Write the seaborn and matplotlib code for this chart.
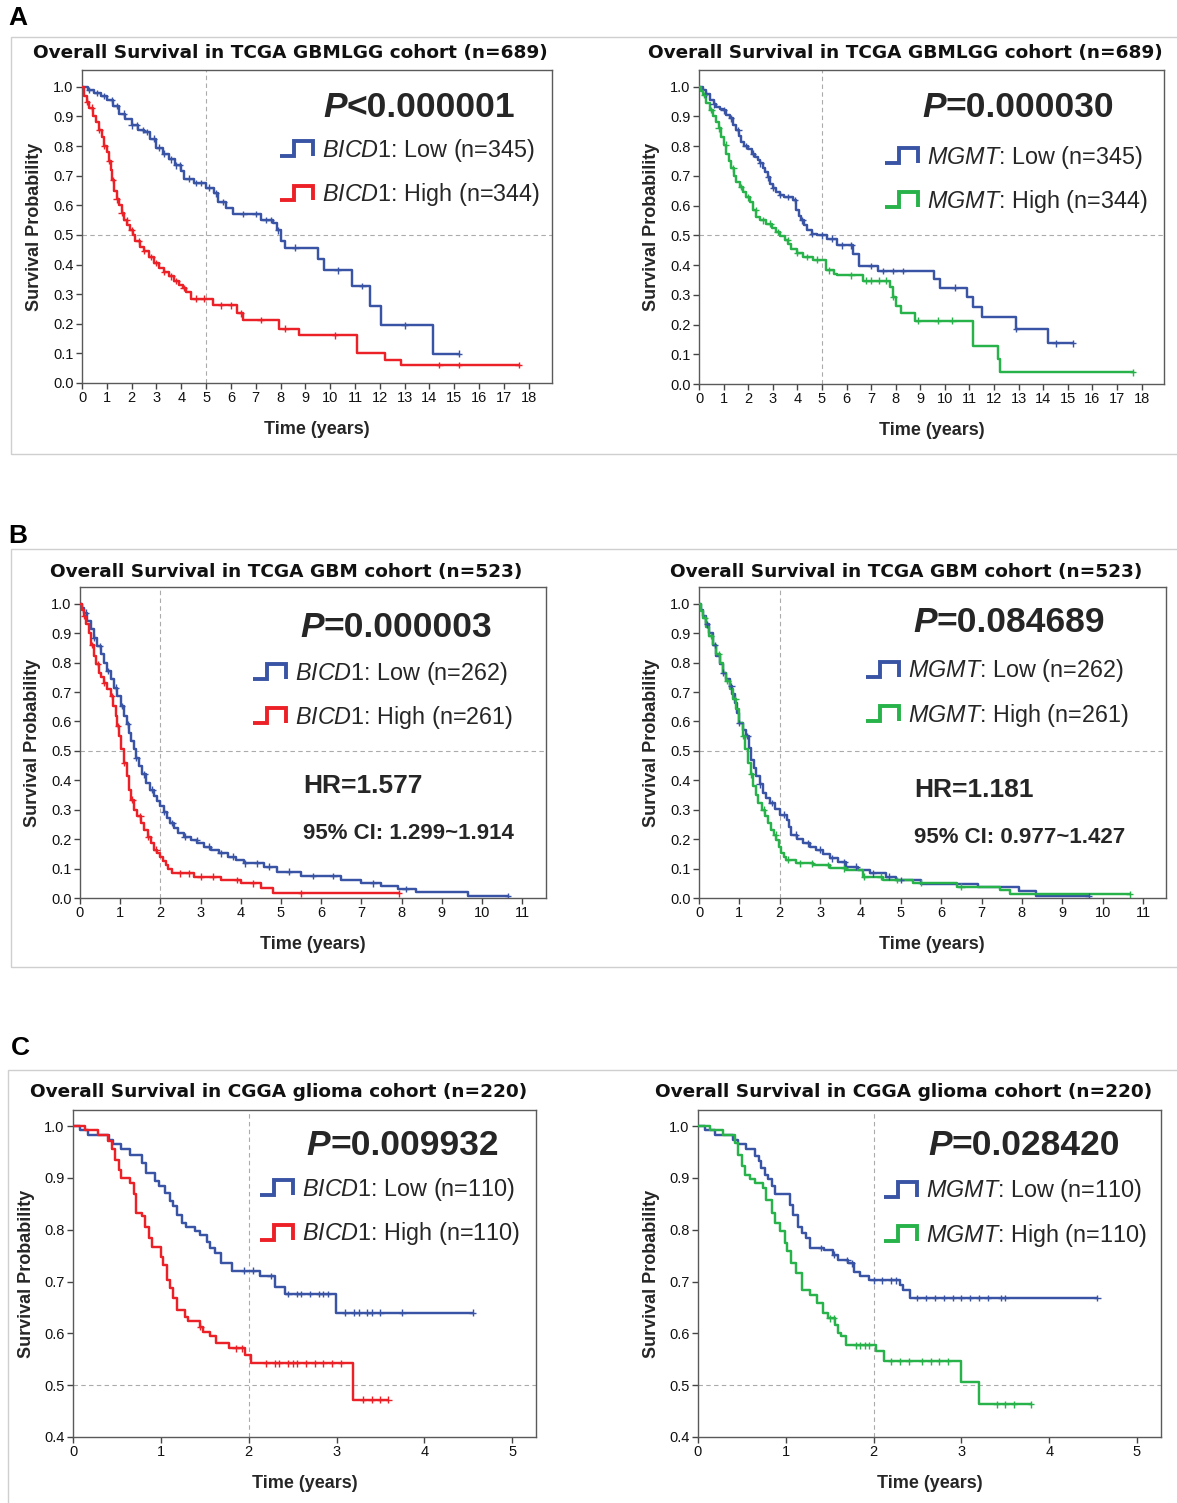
import numpy as np
import pandas as pd
import matplotlib
matplotlib.use("Agg")
import matplotlib.pyplot as plt
import seaborn as sns
from matplotlib.lines import Line2D
from matplotlib.legend_handler import HandlerBase
from matplotlib.patches import Rectangle

# ------------------------------------------------------------------ data
# Panel A : TCGA GBMLGG (n=689)
A_bicd1_low_t = [0, 0.25, 0.5, 0.75, 1.0, 1.25, 1.5, 1.75, 2.0, 2.25, 2.5, 2.75, 3.0, 3.25, 3.5, 3.75,
                 4.0, 4.1, 4.5, 5.0, 5.3, 5.5, 5.8, 6.1, 7.2, 7.7, 7.85, 8.0, 8.2, 9.5, 9.75, 10.9,
                 11.6, 12.05, 14.14]
A_bicd1_low_s = [1.0, 0.99, 0.98, 0.97, 0.955, 0.935, 0.91, 0.89, 0.87, 0.855, 0.848, 0.825, 0.795,
                 0.775, 0.755, 0.735, 0.715, 0.69, 0.675, 0.66, 0.64, 0.611, 0.59, 0.57, 0.55, 0.54,
                 0.515, 0.48, 0.457, 0.42, 0.38, 0.327, 0.26, 0.195, 0.099]
A_bicd1_low_end = 15.2
A_bicd1_low_cens = [0.3, 0.6, 0.9, 1.2, 1.4, 1.7, 2.0, 2.2, 2.45, 2.6, 2.9, 3.1, 3.3, 3.6, 3.8, 3.95,
                    4.3, 4.6, 4.8, 5.1, 5.4, 5.7, 6.5, 7.0, 7.4, 7.6, 7.9, 8.6, 10.3, 11.3, 13.0, 15.2]

A_bicd1_high_t = [0, 0.1, 0.2, 0.3, 0.45, 0.55, 0.7, 0.8, 0.9, 1.0, 1.08, 1.15, 1.22, 1.3, 1.4, 1.5,
                  1.6, 1.7, 1.82, 1.95, 2.05, 2.15, 2.35, 2.5, 2.7, 2.9, 3.1, 3.3, 3.5, 3.7, 3.9,
                  4.05, 4.2, 4.4, 5.27, 6.25, 6.5, 7.95, 8.76, 11.1, 12.2, 12.86]
A_bicd1_high_s = [1.0, 0.97, 0.95, 0.93, 0.9, 0.88, 0.855, 0.83, 0.8, 0.78, 0.75, 0.72, 0.685, 0.65,
                  0.62, 0.60, 0.575, 0.55, 0.535, 0.515, 0.5, 0.48, 0.46, 0.445, 0.425, 0.405, 0.39,
                  0.375, 0.36, 0.345, 0.33, 0.32, 0.307, 0.285, 0.262, 0.235, 0.212, 0.184, 0.161,
                  0.101, 0.079, 0.06]
A_bicd1_high_end = 17.6
A_bicd1_high_cens = [0.2, 0.4, 0.7, 0.9, 1.1, 1.25, 1.4, 1.6, 1.8, 2.0, 2.3, 2.5, 2.8, 3.0, 3.3, 3.6,
                     3.8, 4.1, 4.6, 4.9, 5.6, 6.0, 6.4, 7.2, 8.2, 10.2, 14.4, 15.2, 17.6]

A_mgmt_low_t = [0, 0.16, 0.3, 0.43, 0.6, 0.7, 0.85, 0.98, 1.1, 1.25, 1.4, 1.52, 1.62, 1.72, 1.85, 2.0,
                2.15, 2.26, 2.4, 2.5, 2.6, 2.7, 2.8, 2.9, 3.0, 3.15, 3.3, 3.45, 3.82, 3.96, 4.05, 4.15,
                4.25, 4.4, 4.6, 4.8, 5.2, 5.6, 6.25, 6.5, 7.28, 9.54, 9.8, 10.9, 11.15, 11.5, 12.9,
                14.19]
A_mgmt_low_s = [1.0, 0.99, 0.975, 0.955, 0.94, 0.933, 0.925, 0.92, 0.905, 0.893, 0.872, 0.854, 0.835,
                0.815, 0.80, 0.792, 0.775, 0.764, 0.752, 0.742, 0.728, 0.713, 0.695, 0.674, 0.66,
                0.646, 0.635, 0.629, 0.618, 0.584, 0.565, 0.55, 0.535, 0.517, 0.505, 0.5, 0.489,
                0.466, 0.438, 0.397, 0.38, 0.354, 0.324, 0.294, 0.258, 0.225, 0.185, 0.137]
A_mgmt_low_end = 15.2
A_mgmt_low_cens = [0.3, 0.6, 1.0, 1.3, 1.6, 1.9, 2.2, 2.5, 2.8, 3.0, 3.3, 3.6, 3.9, 4.2, 4.6, 5.0,
                   5.4, 5.8, 6.2, 7.0, 7.5, 7.9, 8.3, 10.4, 12.9, 14.5, 15.2]

A_mgmt_high_t = [0, 0.08, 0.16, 0.3, 0.43, 0.55, 0.7, 0.8, 0.9, 1.0, 1.11, 1.2, 1.31, 1.42, 1.52, 1.65,
                 1.79, 1.92, 2.06, 2.2, 2.33, 2.5, 2.74, 2.95, 3.14, 3.3, 3.48, 3.62, 3.75, 4.0, 4.23,
                 4.63, 5.15, 5.5, 5.6, 6.67, 7.75, 7.9, 8.0, 8.2, 8.77, 11.14, 12.15, 12.25]
A_mgmt_high_s = [1.0, 0.985, 0.972, 0.945, 0.921, 0.9, 0.882, 0.86, 0.831, 0.805, 0.775, 0.75, 0.725,
                 0.70, 0.68, 0.662, 0.646, 0.628, 0.612, 0.585, 0.562, 0.55, 0.539, 0.525, 0.511,
                 0.497, 0.483, 0.47, 0.455, 0.44, 0.427, 0.418, 0.382, 0.371, 0.365, 0.348, 0.326,
                 0.292, 0.264, 0.238, 0.213, 0.129, 0.084, 0.039]
A_mgmt_high_end = 17.64
A_mgmt_high_cens = [0.2, 0.5, 0.8, 1.1, 1.4, 1.7, 2.0, 2.3, 2.6, 2.9, 3.2, 3.6, 4.0, 4.4, 4.8, 5.3,
                    6.2, 6.8, 7.0, 7.3, 7.6, 7.9, 8.9, 9.7, 10.3, 17.64]

# Panel B : TCGA GBM (n=523)
B_bicd1_low_t = [0, 0.05, 0.1, 0.18, 0.27, 0.35, 0.43, 0.52, 0.6, 0.68, 0.76, 0.85, 0.93, 1.02, 1.1,
                 1.16, 1.22, 1.28, 1.34, 1.4, 1.47, 1.55, 1.63, 1.73, 1.84, 1.92, 2.0, 2.08, 2.17,
                 2.25, 2.34, 2.45, 2.59, 2.75, 2.92, 3.08, 3.25, 3.45, 3.67, 3.88, 4.08, 4.58, 4.91,
                 5.5, 6.5, 7.0, 7.5, 7.9, 8.36, 9.65]
B_bicd1_low_s = [1.0, 0.985, 0.97, 0.94, 0.914, 0.885, 0.857, 0.828, 0.8, 0.772, 0.743, 0.715, 0.686,
                 0.652, 0.618, 0.59, 0.561, 0.533, 0.505, 0.476, 0.448, 0.42, 0.391, 0.368, 0.345,
                 0.328, 0.311, 0.292, 0.272, 0.255, 0.2375, 0.222, 0.209, 0.197, 0.186, 0.175, 0.164,
                 0.152, 0.141, 0.13, 0.118, 0.107, 0.09, 0.075, 0.06, 0.05, 0.04, 0.03, 0.02, 0.007]
B_bicd1_low_end = 10.65
B_bicd1_low_cens = [0.15, 0.35, 0.5, 0.7, 0.9, 1.05, 1.2, 1.4, 1.6, 1.8, 2.1, 2.3, 2.6, 2.9, 3.2, 3.5,
                    3.8, 4.1, 4.4, 4.7, 5.2, 5.8, 6.3, 7.3, 8.1, 10.65]

B_bicd1_high_t = [0, 0.05, 0.1, 0.16, 0.22, 0.28, 0.35, 0.41, 0.47, 0.53, 0.6, 0.68, 0.76, 0.83, 0.89,
                  0.93, 0.97, 1.03, 1.1, 1.16, 1.22, 1.28, 1.34, 1.42, 1.51, 1.6, 1.68, 1.76, 1.84,
                  1.92, 2.0, 2.06, 2.13, 2.2, 2.3, 2.84, 3.5, 4.0, 4.5, 4.79]
B_bicd1_high_s = [1.0, 0.98, 0.96, 0.93, 0.902, 0.86, 0.823, 0.795, 0.766, 0.75, 0.732, 0.71, 0.686,
                  0.652, 0.618, 0.584, 0.55, 0.505, 0.459, 0.413, 0.368, 0.334, 0.3, 0.277, 0.2545,
                  0.232, 0.209, 0.186, 0.164, 0.152, 0.141, 0.127, 0.1125, 0.098, 0.084, 0.073, 0.061,
                  0.05, 0.033, 0.016]
B_bicd1_high_end = 7.94
B_bicd1_high_cens = [0.1, 0.3, 0.45, 0.6, 0.8, 0.95, 1.1, 1.3, 1.5, 1.7, 1.9, 2.5, 2.7, 3.0, 3.3, 3.9,
                     4.3, 5.5, 7.94]

B_mgmt_low_t = [0, 0.05, 0.1, 0.18, 0.26, 0.35, 0.43, 0.52, 0.6, 0.68, 0.76, 0.82, 0.88, 0.94, 1.0,
                1.08, 1.17, 1.23, 1.3, 1.36, 1.42, 1.5, 1.59, 1.67, 1.75, 1.88, 2.0, 2.17, 2.23, 2.29,
                2.42, 2.58, 2.75, 2.91, 3.08, 3.24, 3.45, 3.65, 3.95, 4.23, 4.64, 4.89, 5.5, 6.92,
                7.92, 8.36]
B_mgmt_low_s = [1.0, 0.98, 0.96, 0.93, 0.902, 0.86, 0.823, 0.795, 0.766, 0.743, 0.72, 0.692, 0.664,
                0.63, 0.595, 0.572, 0.55, 0.51, 0.47, 0.442, 0.414, 0.386, 0.357, 0.34, 0.323, 0.303,
                0.283, 0.266, 0.24, 0.215, 0.2, 0.186, 0.175, 0.164, 0.15, 0.135, 0.121, 0.107,
                0.095, 0.084, 0.073, 0.061, 0.049, 0.0375, 0.023, 0.006]
B_mgmt_low_end = 9.65
B_mgmt_low_cens = [0.2, 0.4, 0.6, 0.8, 1.0, 1.2, 1.5, 1.8, 2.1, 2.4, 2.7, 3.0, 3.3, 3.6, 3.9, 4.3,
                   4.7, 5.0, 9.65]

B_mgmt_high_t = [0, 0.05, 0.1, 0.18, 0.26, 0.35, 0.43, 0.52, 0.6, 0.68, 0.76, 0.84, 0.92, 1.0, 1.09,
                 1.15, 1.21, 1.28, 1.34, 1.4, 1.46, 1.55, 1.63, 1.71, 1.79, 1.86, 1.92, 1.98, 2.04,
                 2.1, 2.16, 2.41, 2.83, 3.24, 3.65, 4.06, 4.56, 5.3, 6.38, 7.45, 7.7]
B_mgmt_high_s = [1.0, 0.975, 0.95, 0.92, 0.89, 0.86, 0.83, 0.8, 0.766, 0.738, 0.709, 0.675, 0.641,
                 0.595, 0.55, 0.505, 0.459, 0.42, 0.38, 0.35, 0.323, 0.3, 0.277, 0.255, 0.232, 0.215,
                 0.198, 0.175, 0.152, 0.14, 0.13, 0.118, 0.1125, 0.101, 0.095, 0.073, 0.061, 0.052,
                 0.039, 0.027, 0.012]
B_mgmt_high_end = 10.67
B_mgmt_high_cens = [0.15, 0.3, 0.5, 0.7, 0.9, 1.1, 1.3, 1.6, 1.9, 2.2, 2.5, 2.8, 3.2, 3.6, 4.1, 4.5,
                    4.9, 5.5, 6.5, 10.67]

# Panel C : CGGA glioma (n=220)
C_bicd1_low_t = [0, 0.08, 0.17, 0.41, 0.46, 0.55, 0.65, 0.78, 0.83, 0.93, 0.98, 1.05, 1.1, 1.14, 1.18,
                 1.24, 1.29, 1.39, 1.45, 1.52, 1.56, 1.62, 1.69, 1.81, 2.13, 2.3, 2.41, 2.99]
C_bicd1_low_s = [1.0, 0.992, 0.983, 0.973, 0.965, 0.955, 0.945, 0.929, 0.91, 0.894, 0.884, 0.871,
                 0.855, 0.845, 0.829, 0.813, 0.806, 0.797, 0.79, 0.777, 0.765, 0.755, 0.735, 0.721,
                 0.711, 0.69, 0.676, 0.64]
C_bicd1_low_end = 4.55
C_bicd1_low_cens = [1.95, 2.05, 2.25, 2.45, 2.55, 2.6, 2.7, 2.8, 2.85, 2.9, 3.1, 3.2, 3.25, 3.35, 3.4,
                    3.5, 3.75, 4.55]

C_bicd1_high_t = [0, 0.14, 0.29, 0.4, 0.44, 0.48, 0.52, 0.55, 0.65, 0.69, 0.72, 0.78, 0.82, 0.86, 0.9,
                  1.0, 1.03, 1.07, 1.1, 1.14, 1.18, 1.27, 1.31, 1.45, 1.48, 1.56, 1.63, 1.77, 1.96,
                  2.03, 3.19]
C_bicd1_high_s = [1.0, 0.992, 0.983, 0.971, 0.955, 0.935, 0.916, 0.9, 0.89, 0.868, 0.832, 0.826,
                  0.806, 0.784, 0.766, 0.748, 0.732, 0.703, 0.687, 0.668, 0.645, 0.632, 0.623, 0.613,
                  0.603, 0.594, 0.581, 0.571, 0.558, 0.542, 0.472]
C_bicd1_high_end = 3.59
C_bicd1_high_cens = [1.45, 1.85, 1.92, 2.2, 2.3, 2.35, 2.45, 2.5, 2.55, 2.65, 2.75, 2.85, 2.95, 3.05,
                     3.3, 3.4, 3.5, 3.59]

C_mgmt_low_t = [0, 0.08, 0.19, 0.4, 0.46, 0.55, 0.65, 0.69, 0.72, 0.76, 0.8, 0.84, 0.875, 1.045, 1.08,
                1.14, 1.18, 1.23, 1.27, 1.44, 1.54, 1.6, 1.71, 1.78, 1.84, 1.95, 2.3, 2.33, 2.41]
C_mgmt_low_s = [1.0, 0.992, 0.983, 0.973, 0.965, 0.955, 0.942, 0.932, 0.919, 0.906, 0.897, 0.884,
                0.868, 0.848, 0.829, 0.806, 0.794, 0.784, 0.765, 0.761, 0.752, 0.742, 0.735, 0.719,
                0.711, 0.702, 0.694, 0.684, 0.668]
C_mgmt_low_end = 4.55
C_mgmt_low_cens = [1.4, 1.55, 1.7, 1.75, 2.0, 2.1, 2.2, 2.25, 2.5, 2.6, 2.7, 2.8, 2.9, 3.0, 3.1, 3.2,
                   3.3, 3.45, 3.5, 4.55]

C_mgmt_high_t = [0, 0.14, 0.29, 0.42, 0.46, 0.5, 0.53, 0.59, 0.65, 0.74, 0.78, 0.84, 0.875, 0.93, 0.99,
                 1.01, 1.06, 1.12, 1.18, 1.27, 1.35, 1.42, 1.48, 1.56, 1.6, 1.63, 1.69, 2.03, 2.12,
                 3.0, 3.2]
C_mgmt_high_s = [1.0, 0.992, 0.983, 0.968, 0.945, 0.923, 0.906, 0.897, 0.89, 0.881, 0.858, 0.832,
                 0.813, 0.797, 0.774, 0.758, 0.735, 0.716, 0.684, 0.674, 0.658, 0.639, 0.629, 0.616,
                 0.6, 0.594, 0.577, 0.565, 0.546, 0.506, 0.463]
C_mgmt_high_end = 3.79
C_mgmt_high_cens = [1.5, 1.55, 1.8, 1.85, 1.9, 1.95, 2.2, 2.3, 2.4, 2.55, 2.65, 2.75, 2.85, 3.4, 3.5,
                    3.6, 3.79]

titles = ["Overall Survival in TCGA GBMLGG cohort (n=689)",
          "Overall Survival in TCGA GBM cohort (n=523)",
          "Overall Survival in CGGA glioma cohort (n=220)"]
p_values = [["<0.000001", "=0.000030"], ["=0.000003", "=0.084689"], ["=0.009932", "=0.028420"]]
group_n = [["345", "344"], ["262", "261"], ["110", "110"]]
hr_texts = ["HR=1.577", "HR=1.181"]
ci_texts = ["95% CI: 1.299~1.914", "95% CI: 0.977~1.427"]
panel_letters = ["A", "B", "C"]

BLUE, RED, GREEN = "#3a54a5", "#ec2127", "#27b24a"

# ------------------------------------------------------------------ style
sns.set_theme(style="ticks")
plt.rcParams["font.family"] = ["Liberation Sans", "DejaVu Sans"]
plt.rcParams["mathtext.fontset"] = "custom"
plt.rcParams["mathtext.rm"] = "Liberation Sans"
plt.rcParams["mathtext.it"] = "Liberation Sans:italic"
plt.rcParams["mathtext.bf"] = "Liberation Sans:bold"

W, H = 1177, 1503
fig = plt.figure(figsize=(W / 100, H / 100), dpi=100)
fig.patch.set_facecolor("white")


def fx(px):
    return px / W


def fy(py):
    return 1 - py / H


class StepHandler(HandlerBase):
    def create_artists(self, legend, orig_handle, xdescent, ydescent, width, height, fontsize, trans):
        x0, y0 = -xdescent, -ydescent
        xs = [x0, x0 + 0.42 * width, x0 + 0.42 * width, x0 + width, x0 + width]
        ys = [y0, y0, y0 + height, y0 + height, y0]
        ln = Line2D(xs, ys, color=orig_handle.get_color(), lw=2.8,
                    solid_joinstyle="miter", solid_capstyle="butt")
        ln.set_transform(trans)
        return [ln]


# layout (pixels): left, top, right, bottom of each axes
layout = [
    dict(box=(82, 70, 552, 383), xlim=(0, 18.94), ylim=(0, 1.057), xt=range(0, 19), yt=np.arange(0, 1.01, 0.1),
         vline=5, tpad=8.6, p=(0.513, 0.879), leg=(0.421, 0.672)),
    dict(box=(699, 70, 1164, 384), xlim=(0, 18.91), ylim=(0, 1.056), xt=range(0, 19), yt=np.arange(0, 1.01, 0.1),
         vline=5, tpad=8.6, p=(0.48, 0.882), leg=(0.40, 0.652)),
    dict(box=(80, 587, 545.5, 898), xlim=(0, 11.58), ylim=(0, 1.057), xt=range(0, 12), yt=np.arange(0, 1.01, 0.1),
         vline=2, tpad=7.2, p=(0.473, 0.871), leg=(0.372, 0.652), hr=(0.479, 0.36), ci=(0.479, 0.209)),
    dict(box=(699, 587, 1165.6, 898), xlim=(0, 11.56), ylim=(0, 1.057), xt=range(0, 12), yt=np.arange(0, 1.01, 0.1),
         vline=2, tpad=7.2, p=(0.459, 0.887), leg=(0.358, 0.659), hr=(0.461, 0.347), ci=(0.461, 0.196)),
    dict(box=(73, 1110, 536, 1437), xlim=(0, 5.27), ylim=(0.4, 1.031), xt=range(0, 6), yt=np.arange(0.4, 1.01, 0.1),
         vline=2, tpad=9.4, p=(0.505, 0.89), leg=(0.404, 0.689)),
    dict(box=(698, 1110, 1160.7, 1437), xlim=(0, 5.27), ylim=(0.4, 1.031), xt=range(0, 6), yt=np.arange(0.4, 1.01, 0.1),
         vline=2, tpad=9.4, p=(0.497, 0.89), leg=(0.402, 0.685)),
]

curves = [
    [("BICD1", "Low", A_bicd1_low_t, A_bicd1_low_s, A_bicd1_low_end, A_bicd1_low_cens, BLUE),
     ("BICD1", "High", A_bicd1_high_t, A_bicd1_high_s, A_bicd1_high_end, A_bicd1_high_cens, RED)],
    [("MGMT", "Low", A_mgmt_low_t, A_mgmt_low_s, A_mgmt_low_end, A_mgmt_low_cens, BLUE),
     ("MGMT", "High", A_mgmt_high_t, A_mgmt_high_s, A_mgmt_high_end, A_mgmt_high_cens, GREEN)],
    [("BICD1", "Low", B_bicd1_low_t, B_bicd1_low_s, B_bicd1_low_end, B_bicd1_low_cens, BLUE),
     ("BICD1", "High", B_bicd1_high_t, B_bicd1_high_s, B_bicd1_high_end, B_bicd1_high_cens, RED)],
    [("MGMT", "Low", B_mgmt_low_t, B_mgmt_low_s, B_mgmt_low_end, B_mgmt_low_cens, BLUE),
     ("MGMT", "High", B_mgmt_high_t, B_mgmt_high_s, B_mgmt_high_end, B_mgmt_high_cens, GREEN)],
    [("BICD1", "Low", C_bicd1_low_t, C_bicd1_low_s, C_bicd1_low_end, C_bicd1_low_cens, BLUE),
     ("BICD1", "High", C_bicd1_high_t, C_bicd1_high_s, C_bicd1_high_end, C_bicd1_high_cens, RED)],
    [("MGMT", "Low", C_mgmt_low_t, C_mgmt_low_s, C_mgmt_low_end, C_mgmt_low_cens, BLUE),
     ("MGMT", "High", C_mgmt_high_t, C_mgmt_high_s, C_mgmt_high_end, C_mgmt_high_cens, GREEN)],
]

# row frames and letters
frames = [(11, 37, 454), (11, 549, 967), (8, 1070, 1520)]
letter_pos = [(18, 18), (18, 536), (20, 1048)]
for (lx, ty, by), (ax_, ay_), letter in zip(frames, letter_pos, panel_letters):
    fig.add_artist(Rectangle((fx(lx), fy(by)), fx(1200 - lx), (by - ty) / H, transform=fig.transFigure,
                             fill=False, edgecolor="#cfcfcf", lw=1.0))
    fig.text(fx(ax_), fy(ay_), letter, ha="center", va="center", fontsize=19, fontweight="bold",
             color="black")

for i, (lay, crv) in enumerate(zip(layout, curves)):
    row = i // 2
    l, t, r, b = lay["box"]
    ax = fig.add_axes([fx(l), fy(b), (r - l) / W, (b - t) / H])

    rows, cens_rows = [], []
    palette = {}
    for gene, lev, tt, ss, end, cens, col in crv:
        name = f"{gene} {lev}"
        palette[name] = col
        for a, v in zip(list(tt) + [end], list(ss) + [ss[-1]]):
            rows.append((a, v, name))
        tarr = np.asarray(tt)
        for c in cens:
            idx = np.searchsorted(tarr, c, side="right") - 1
            cens_rows.append((c, ss[idx], name))
    df = pd.DataFrame(rows, columns=["time", "surv", "group"])
    cdf = pd.DataFrame(cens_rows, columns=["time", "surv", "group"])

    ax.axvline(lay["vline"], color="#ababab", lw=0.8, ls=(0, (4, 3)), zorder=0)
    ax.axhline(0.5, color="#ababab", lw=0.8, ls=(0, (4, 3)), zorder=0)

    sns.lineplot(data=df, x="time", y="surv", hue="group", palette=palette, estimator=None, sort=False,
                 drawstyle="steps-post", lw=1.75, legend=False, ax=ax, zorder=3)
    sns.scatterplot(data=cdf, x="time", y="surv", hue="group", palette=palette, marker="+", s=22,
                    linewidth=1.0, legend=False, ax=ax, zorder=4)

    ax.set_xlim(*lay["xlim"])
    ax.set_ylim(*lay["ylim"])
    ax.set_xticks(list(lay["xt"]))
    ax.set_yticks(lay["yt"])
    ax.set_yticklabels([f"{v:.1f}" for v in lay["yt"]])
    for sp in ax.spines.values():
        sp.set_visible(True)
        sp.set_color("#5a5a5a")
        sp.set_linewidth(1.0)
    ax.tick_params(direction="out", length=4, width=1, color="#444444", labelsize=10.5, pad=2,
                   labelcolor="#111111")
    ax.set_xlabel("Time (years)", fontsize=13, fontweight="bold", labelpad=11)
    ax.set_ylabel("Survival Probability", fontsize=13, fontweight="bold", labelpad=7)
    ax.set_title(titles[row], x=0.444, pad=lay["tpad"], fontsize=13.3, fontweight="bold",
                 family="DejaVu Sans", color="#111111")

    # P value
    px, py = lay["p"]
    tP = ax.text(px, py, "P", transform=ax.transAxes, fontsize=25.5, fontweight="bold",
                 fontstyle="italic", ha="left", va="center")
    ax.annotate(p_values[row][i % 2], xy=(1, 0.5), xycoords=tP, ha="left", va="center",
                fontsize=25.5, fontweight="bold")

    # legend
    handles = [Line2D([], [], color=c[6]) for c in crv]
    labels = [rf"$\mathit{{{c[0]}}}$: {c[1]} (n={n})" for c, n in zip(crv, group_n[row])]
    ax.legend(handles, labels, handler_map={Line2D: StepHandler()}, loc="center left",
              bbox_to_anchor=lay["leg"], bbox_transform=ax.transAxes, frameon=False, borderpad=0,
              borderaxespad=0, handlelength=1.4, handleheight=0.6, handletextpad=0.4,
              labelspacing=0.74, fontsize=16.8)

    if "hr" in lay:
        ax.text(*lay["hr"], hr_texts[i % 2], transform=ax.transAxes, fontsize=19, fontweight="bold",
                ha="left", va="center")
        ax.text(*lay["ci"], ci_texts[i % 2], transform=ax.transAxes, fontsize=16, fontweight="bold",
                ha="left", va="center")

fig.savefig("out.png", dpi=100, facecolor="white")
